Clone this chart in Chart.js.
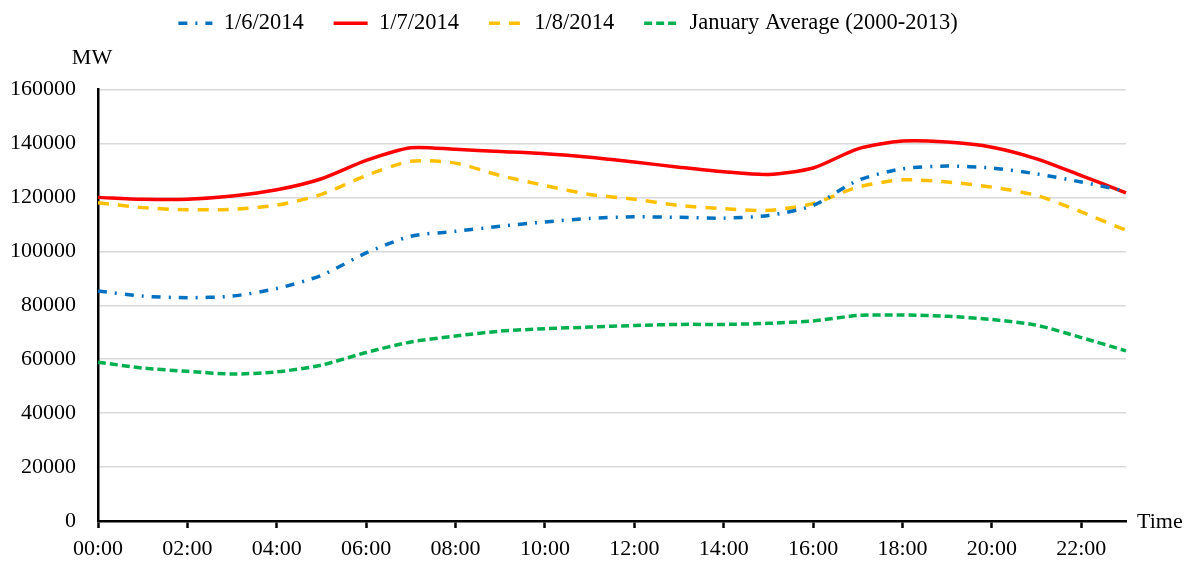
<!DOCTYPE html>
<html>
<head>
<meta charset="utf-8">
<script src="https://cdn.jsdelivr.net/npm/chart.js@4"></script>
<style>
  html, body { margin: 0; padding: 0; background: #fff; }
  .chart-container { width: 1188px; height: 562px; position: relative; }
</style>
</head>
<body>
<div class="chart-container"><canvas id="loadChart"></canvas></div>
<script>
// hourly labels
const hours = ["00:00","01:00","02:00","03:00","04:00","05:00","06:00","07:00","08:00","09:00","10:00","11:00",
  "12:00","13:00","14:00","15:00","16:00","17:00","18:00","19:00","20:00","21:00","22:00","23:00"];

const jan6 = [85300, 83400, 82800, 83400, 86200, 91100, 99400, 105600, 107400, 109300, 110900, 112200,
  112800, 112600, 112300, 113300, 117000, 126300, 130600, 131600, 130900, 128700, 125700, 122300];
const jan7 = [120000, 119300, 119300, 120500, 122800, 126900, 133700, 138400, 137800, 137000, 136200, 134900,
  133100, 131200, 129500, 128500, 130900, 138000, 140900, 140500, 138600, 134300, 128100, 121700];
const jan8 = [118000, 116200, 115400, 115600, 117100, 121100, 128100, 133400, 132700, 128100, 124400, 121100,
  119300, 117000, 115800, 115200, 117700, 123800, 126500, 125700, 123800, 120700, 114600, 107800];
const janAvg = [58900, 56700, 55500, 54500, 55300, 57800, 62500, 66400, 68600, 70400, 71300, 71900,
  72500, 72900, 72900, 73300, 74200, 76200, 76400, 75900, 74700, 72600, 68000, 63100];

const yTicksMax = 160000;
const yStep = 20000;

const font = "'Liberation Serif', 'Times New Roman', serif";

// extra gap under the legend
const legendGap = {
  id: "legendGap",
  beforeInit(chart) {
    const origFit = chart.legend.fit;
    chart.legend.fit = function () {
      origFit.bind(chart.legend)();
      this.height += 45;
    };
  }
};

// "MW" above the y axis and "Time" at the end of the x axis
const axisNames = {
  id: "axisNames",
  afterDraw(chart) {
    const { ctx, chartArea } = chart;
    ctx.save();
    ctx.fillStyle = "#000";
    ctx.font = "22px " + font;
    ctx.textAlign = "center";
    ctx.textBaseline = "middle";
    ctx.fillText("MW", chartArea.left - 6, chartArea.top - 31);
    ctx.textAlign = "left";
    ctx.fillText("Time", chartArea.right + 11, chartArea.bottom + 1);
    ctx.restore();
  }
};

function makeSet(label, data, color, dash, width) {
  return {
    label: label,
    data: data,
    borderColor: color,
    backgroundColor: color,
    borderWidth: width,
    borderDash: dash,
    pointRadius: 0,
    pointHoverRadius: 0,
    pointStyle: "line",
    tension: 0.25,
    fill: false
  };
}

const ctx = document.getElementById("loadChart").getContext("2d");
new Chart(ctx, {
  type: "line",
  data: {
    labels: hours,
    datasets: [
      makeSet("1/6/2014", jan6, "#0070C0", [9, 8, 2, 8], 3.5),
      makeSet("1/7/2014", jan7, "#FF0000", [], 3.5),
      makeSet("1/8/2014", jan8, "#FFC000", [11, 9], 3.5),
      makeSet("January Average (2000-2013)", janAvg, "#00B050", [8, 4], 3.5)
    ]
  },
  options: {
    responsive: true,
    maintainAspectRatio: false,
    animation: false,
    layout: { padding: { left: 10, right: 62, top: -18, bottom: 0 } },
    plugins: {
      legend: {
        position: "top",
        labels: {
          color: "#000",
          font: { family: font, size: 22.5 },
          usePointStyle: true,
          pointStyle: "line",
          pointStyleWidth: 34,
          boxHeight: 8,
          padding: 30,
          generateLabels(chart) {
            const items = Chart.defaults.plugins.legend.labels.generateLabels(chart);
            return items.map((item, i) => {
              const ds = chart.data.datasets[i];
              item.lineDash = ds.borderDash;
              item.lineWidth = 3.5;
              item.strokeStyle = ds.borderColor;
              return item;
            });
          }
        }
      },
      tooltip: { enabled: false }
    },
    scales: {
      x: {
        offset: false,
        border: { color: "#000", width: 2.5 },
        grid: { drawOnChartArea: false, drawTicks: true, tickLength: 7, tickWidth: 2.5, tickColor: "#000" },
        afterFit(scale) { scale.height = 41; },
        ticks: {
          color: "#000",
          font: { family: font, size: 22 },
          autoSkip: false,
          maxRotation: 0,
          padding: 8,
          callback: (v, i) => (i % 2 ? null : hours[i])
        }
      },
      y: {
        min: 0,
        max: yTicksMax,
        border: { color: "#000", width: 2.5 },
        grid: { color: "#d9d9d9", lineWidth: 1.5, drawTicks: false },
        afterFit(scale) { scale.width = 88; },
        ticks: {
          stepSize: yStep,
          color: "#000",
          font: { family: font, size: 22 },
          padding: 22,
          callback: v => String(v)
        }
      }
    }
  },
  plugins: [legendGap, axisNames]
});
</script>
</body>
</html>
